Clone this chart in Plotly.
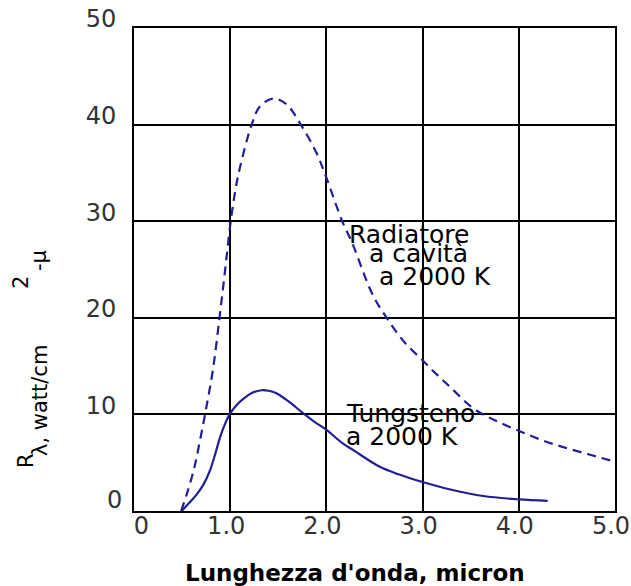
import plotly.graph_objects as go

# ---- data ----
cavity_x = [0.49, 0.55, 0.62, 0.68, 0.74, 0.82, 0.89, 0.95, 1.0, 1.05, 1.10, 1.22, 1.31,
            1.45, 1.585, 1.74, 1.90, 2.0, 2.16, 2.27, 2.48, 2.62, 2.8, 3.0, 3.14,
            3.28, 3.53, 3.75, 4.0, 4.25, 4.5, 4.75, 5.0]
cavity_y = [0.0, 1.8, 4.2, 7.0, 10.1, 14.6, 20.1, 25.2, 29.6, 33.0, 35.5, 39.9, 41.9,
            42.7, 42.1, 39.9, 37.0, 34.5, 30.1, 27.7, 22.4, 20.1, 17.6, 15.6, 14.2,
            12.9, 10.6, 9.4, 8.3, 7.3, 6.5, 5.8, 5.1]

tung_x = [0.495, 0.57, 0.65, 0.72, 0.79, 0.85, 0.90, 0.95, 1.0, 1.07, 1.135, 1.22,
          1.325, 1.40, 1.48, 1.60, 1.76, 1.88, 2.0, 2.17, 2.28, 2.55, 2.75, 3.0,
          3.3, 3.63, 4.0, 4.30]
tung_y = [0.0, 0.8, 1.7, 2.7, 4.2, 6.1, 7.8, 9.1, 10.1, 11.0, 11.6, 12.2,
          12.5, 12.45, 12.2, 11.4, 10.1, 9.2, 8.4, 7.0, 6.3, 4.6, 3.8, 3.0,
          2.2, 1.55, 1.2, 1.05]

x_ticks = [0, 1, 2, 3, 4, 5]
x_tick_labels = ["0", "1.0", "2.0", "3.0", "4.0", "5.0"]
y_ticks = [0, 10, 20, 30, 40, 50]
y_tick_labels = ["0", "10", "20", "30", "40", "50"]

cavity_label = ["Radiatore", "a cavità", "a 2000 K"]
tung_label = ["Tungsteno", "a 2000 K"]
x_title = "Lunghezza d'onda, micron"
y_title_parts = ["R", "λ, watt/cm", "2", "-μ"]

# ---- layout geometry (pixels) ----
W, H = 631, 586
L, R, T, B = 134, 16, 28, 75
PW, PH = W - L - R, H - T - B


def px(xp):
    return (xp - L) / PW


def py(yp):
    return (H - B - yp) / PH


FONT = "DejaVu Sans"
CURVE = "#1f1f96"
TICKC = "#333333"

fig = go.Figure()
fig.add_trace(go.Scatter(x=cavity_x, y=cavity_y, mode="lines",
                         line=dict(color=CURVE, width=2.2, dash="9px,6px",
                                   shape="spline", smoothing=1.0),
                         hoverinfo="skip", showlegend=False))
fig.add_trace(go.Scatter(x=tung_x, y=tung_y, mode="lines",
                         line=dict(color=CURVE, width=2.2, shape="spline", smoothing=1.0),
                         hoverinfo="skip", showlegend=False))

# white patches behind the curve labels (they hide the grid)
fig.add_shape(type="rect", xref="paper", yref="paper",
              x0=px(341), x1=px(490), y0=py(293), y1=py(223),
              fillcolor="white", line=dict(width=0), layer="between")
fig.add_shape(type="rect", xref="paper", yref="paper",
              x0=px(336), x1=px(490), y0=py(462), y1=py(390),
              fillcolor="white", line=dict(width=0), layer="between")

ann = []
LBL = 25
cav_pos = [(347, 234), (367, 253), (377, 276)]
for txt, (xp, yp) in zip(cavity_label, cav_pos):
    ann.append(dict(text=txt, x=px(xp), y=py(yp), xref="paper", yref="paper",
                    xanchor="left", yanchor="middle", showarrow=False,
                    font=dict(family=FONT, size=LBL, color="black")))
tung_pos = [(344, 413), (344, 436)]
for txt, (xp, yp) in zip(tung_label, tung_pos):
    ann.append(dict(text=txt, x=px(xp), y=py(yp), xref="paper", yref="paper",
                    xanchor="left", yanchor="middle", showarrow=False,
                    font=dict(family=FONT, size=LBL, color="black")))

# x axis title
ann.append(dict(text="<b>" + x_title + "</b>", x=px(355), y=py(573),
                xref="paper", yref="paper", xanchor="center", yanchor="middle",
                showarrow=False, font=dict(family=FONT, size=23, color="black")))

# y axis title pieces (rotated)
ytitle_pos = [(26, 461), (40, 401), (21, 283), (39, 261)]
for txt, (xp, yp) in zip(y_title_parts, ytitle_pos):
    ann.append(dict(text=txt, x=px(xp), y=py(yp), xref="paper", yref="paper",
                    xanchor="center", yanchor="middle", textangle=-90,
                    showarrow=False, font=dict(family=FONT, size=21, color="black")))

# the "0" of the x axis sits just right of the origin in the reference
x_ticktext = [("\u00a0\u00a0\u00a0" + t) if v == 0 else t
              for v, t in zip(x_ticks, x_tick_labels)]
# the "0" of the y axis sits closer to the axis: drawn as its own label
y_ticktext = ["" if v == 0 else t for v, t in zip(y_ticks, y_tick_labels)]
for v, t in zip(y_ticks, y_tick_labels):
    if v == 0:
        ann.append(dict(text=t, x=px(124), y=py(500), xref="paper", yref="paper",
                        xanchor="right", yanchor="middle", showarrow=False,
                        font=dict(family=FONT, size=24, color=TICKC)))

fig.update_layout(
    width=W, height=H,
    margin=dict(l=L, r=R, t=T, b=B, pad=0, autoexpand=False),
    paper_bgcolor="white", plot_bgcolor="white",
    annotations=ann,
    showlegend=False,
    xaxis=dict(range=[0, 5], tickvals=x_ticks, ticktext=x_ticktext,
               showgrid=True, gridcolor="black", gridwidth=2,
               showline=True, linecolor="black", linewidth=2, mirror=True,
               zeroline=False, ticks="", automargin=False,
               ticklabelshift=-4, ticklabelstandoff=-8,
               tickfont=dict(family=FONT, size=24, color=TICKC),
               fixedrange=True),
    yaxis=dict(range=[0, 50], tickvals=y_ticks, ticktext=y_ticktext,
               showgrid=True, gridcolor="black", gridwidth=2,
               showline=True, linecolor="black", linewidth=2, mirror=True,
               zeroline=False, ticks="", automargin=False,
               ticklabelshift=-9, ticklabelstandoff=11,
               tickfont=dict(family=FONT, size=24, color=TICKC),
               fixedrange=True),
)

fig.write_html(
    "out.html",
    config={"displayModeBar": False},
    post_script=("document.body.style.margin='0';"
                 "document.body.style.overflow='hidden';"
                 "document.documentElement.style.overflow='hidden';"),
)
